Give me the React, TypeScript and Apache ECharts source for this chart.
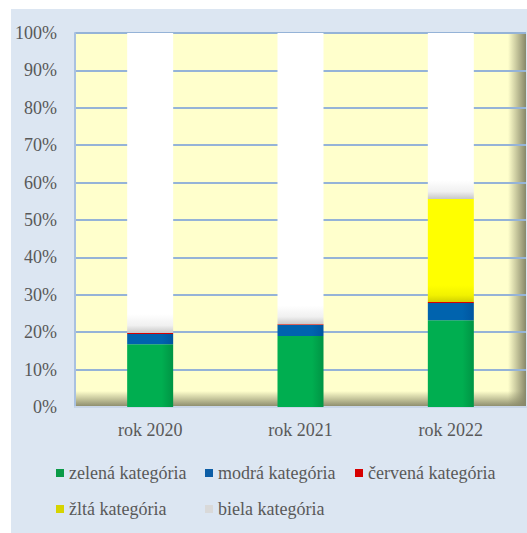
import React, { useEffect, useRef } from "react";
import * as echarts from "echarts";

const categories = ["rok 2020", "rok 2021", "rok 2022"];
const seriesNames = ["zelená kategória", "modrá kategória", "červená kategória", "žltá kategória", "biela kategória"];
const zelena = [16.8, 19.0, 23.2];
const modra = [2.7, 2.9, 4.6];
const cervena = [0.3, 0.2, 0.3];
const zlta = [0, 0, 27.5];
const biela = [80.2, 77.9, 44.4];
const yTicks = [0, 10, 20, 30, 40, 50, 60, 70, 80, 90, 100];

const FONT = "Liberation Serif";
const TEXT = "#595959";

const hGrad = (a: string, b: string, c: string) =>
  new echarts.graphic.LinearGradient(0, 0, 1, 0, [
    { offset: 0, color: a },
    { offset: 0.75, color: b },
    { offset: 1, color: c },
  ]);

const vFade = (v: number, top: string, mid: string, bottom: string, band: number) => {
  const start = v > 0 ? Math.max(0, 1 - band / v) : 0;
  return new echarts.graphic.LinearGradient(0, 0, 0, 1, [
    { offset: 0, color: top },
    { offset: start, color: top },
    { offset: start + (1 - start) * 0.6, color: mid },
    { offset: 1, color: bottom },
  ]);
};

export default function App() {
  const ref = useRef<HTMLDivElement>(null);
  useEffect(() => {
    if (!ref.current) return;
    const chart = echarts.init(ref.current, null, { renderer: "svg" });
    const legendColors = ["#0a9a47", "#0d5ea6", "#d70000", "#d6d400", "#d9d9d9"];
    const legendPos = [
      [56, 464],
      [205, 464],
      [355, 464],
      [56, 500],
      [205, 500],
    ];
    const ts = { fontFamily: FONT, fontSize: 18, color: TEXT };
    const legends = seriesNames.map((n, i) => ({
      data: [{ name: n, itemStyle: { color: legendColors[i] } }],
      left: legendPos[i][0],
      top: legendPos[i][1],
      icon: "rect",
      itemWidth: 8,
      itemHeight: 8,
      itemGap: 0,
      padding: 0,
      selectedMode: false,
      formatter: "{t|{name}}",
      textStyle: { ...ts, rich: { t: { ...ts } } },
    }));
    const base = { type: "bar", stack: "total", barWidth: 46 };
    chart.setOption({
      animation: false,
      textStyle: { fontFamily: FONT },
      graphic: [
        { type: "rect", z: -30, shape: { x: 11, y: 9, width: 516, height: 524 }, style: { fill: "#dce6f2" } },
        { type: "rect", z: -20, shape: { x: 75, y: 33, width: 451, height: 374 }, style: { fill: "#ffffcc" } },
        {
          type: "rect", z: -10, shape: { x: 75, y: 391, width: 451, height: 16 },
          style: {
            fill: new echarts.graphic.LinearGradient(0, 0, 0, 1, [
              { offset: 0, color: "rgba(140,140,105,0)" },
              { offset: 1, color: "rgba(135,135,105,1)" },
            ]),
          },
        },
        {
          type: "rect", z: -10, shape: { x: 508, y: 33, width: 18, height: 374 },
          style: {
            fill: new echarts.graphic.LinearGradient(0, 0, 1, 0, [
              { offset: 0, color: "rgba(140,140,105,0)" },
              { offset: 1, color: "rgba(135,135,105,1)" },
            ]),
          },
        },
      ],
      legend: legends,
      grid: { left: 75, right: 1, top: 33, bottom: 126, containLabel: false },
      xAxis: {
        type: "category",
        data: categories,
        axisLine: { show: true, lineStyle: { color: "#c9d6e8", width: 2 } },
        axisTick: { show: false },
        axisLabel: { ...ts, margin: 14 },
      },
      yAxis: {
        type: "value",
        min: yTicks[0],
        max: yTicks[yTicks.length - 1],
        interval: 10,
        axisLine: { show: true, lineStyle: { color: "#a9c1e0", width: 2 } },
        axisTick: { show: false },
        axisLabel: { formatter: "{value}%", ...ts, margin: 18 },
        splitLine: { show: true, lineStyle: { color: "#95b3d7", width: 2 } },
      },
      series: [
        {
          ...base, name: seriesNames[0], data: zelena,
          itemStyle: { color: hGrad("#00ae50", "#00ae50", "#009444") },
        },
        {
          ...base, name: seriesNames[1], data: modra,
          itemStyle: { color: hGrad("#0063ae", "#0063ae", "#0055a0") },
        },
        {
          ...base, name: seriesNames[2], data: cervena,
          itemStyle: { color: "#d60000" },
        },
        {
          ...base, name: seriesNames[3],
          data: zlta.map((v) => ({ value: v, itemStyle: { color: vFade(v, "#ffff00", "#f2f200", "#d2d200", 4.5) } })),
        },
        {
          ...base, name: seriesNames[4],
          data: biela.map((v) => ({ value: v, itemStyle: { color: vFade(v, "#ffffff", "#f0f0f0", "#c8c8c8", 5) } })),
        },
      ],
    });
    return () => chart.dispose();
  }, []);
  return (
    <div
      ref={ref}
      style={{ position: "absolute", left: 0, top: 0, width: 527, height: 533, background: "#ffffff" }}
    />
  );
}
